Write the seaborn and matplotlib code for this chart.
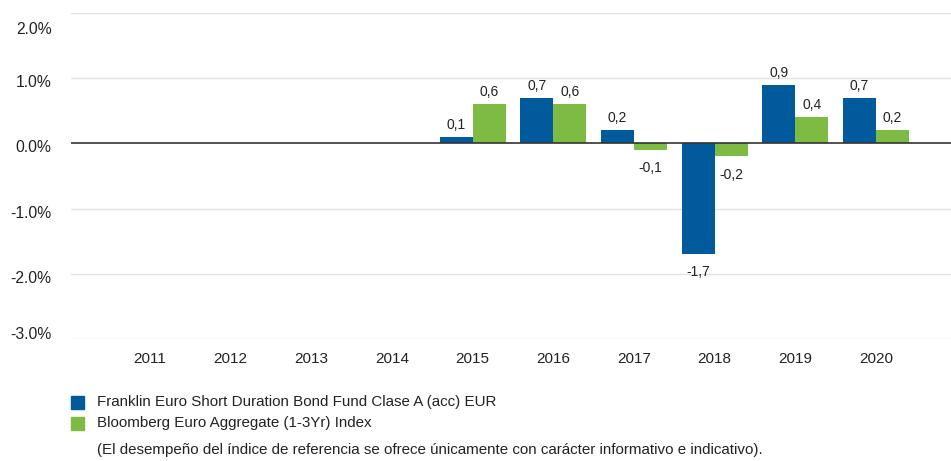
import matplotlib
matplotlib.use("Agg")
import matplotlib.pyplot as plt
import matplotlib.patches as mpatches
import matplotlib.transforms as mtransforms
import seaborn as sns
import pandas as pd
import numpy as np

years = ["2011", "2012", "2013", "2014", "2015", "2016", "2017", "2018", "2019", "2020"]
fund = [np.nan, np.nan, np.nan, np.nan, 0.1, 0.7, 0.2, -1.7, 0.9, 0.7]
index = [np.nan, np.nan, np.nan, np.nan, 0.6, 0.6, -0.1, -0.2, 0.4, 0.2]
series_names = ["Franklin Euro Short Duration Bond Fund Clase A (acc) EUR",
                "Bloomberg Euro Aggregate (1-3Yr) Index"]
yticks = [-3.0, -2.0, -1.0, 0.0, 1.0, 2.0]
footnote = "(El desempeño del índice de referencia se ofrece únicamente con carácter informativo e indicativo)."
colors = ["#005A9C", "#7DBB42"]

sns.set_theme(style="white")
plt.rcParams["font.family"] = ["Liberation Sans", "DejaVu Sans"]

df = pd.DataFrame({
    "year": years * 2,
    "value": fund + index,
    "series": [series_names[0]] * len(years) + [series_names[1]] * len(years),
})

fig = plt.figure(figsize=(9.51, 4.61), dpi=100)
ax = fig.add_axes([71 / 951, 1 - 339 / 461, 1 - 71 / 951, (339 - 13) / 461])

sns.barplot(data=df, x="year", y="value", hue="series", order=years,
            hue_order=series_names, palette=colors, width=0.82,
            saturation=1, ax=ax, legend=False, errorbar=None, linewidth=0)

ax.set_ylim(-3.0, 2.0)
ax.set_xlim(-0.98, 9.93)
ax.set_yticks(yticks)
ax.set_yticklabels([f"{v:.1f}%" for v in yticks], fontsize=11.3, color="#222222")
ax.tick_params(axis="x", labelsize=11, colors="#222222", length=0, pad=9)
ax.tick_params(axis="y", length=0, pad=14)
ax.set_xlabel("")
ax.set_ylabel("")
for s in ax.spines.values():
    s.set_visible(False)
for v in yticks:
    if v == 0:
        ax.axhline(v, color="#333333", lw=1.2, zorder=3)
    else:
        ax.axhline(v, color="#e3e3e3", lw=1.0, zorder=0)

# vertical nudges of y tick labels (in pixels, negative = down), as in reference
ymax, ymin = max(yticks), min(yticks)
for lab, v in zip(ax.get_yticklabels(), yticks):
    if v == ymax:
        dy = -15
    elif v == ymin:
        dy = 6
    else:
        dy = -3
    lab.set_transform(lab.get_transform() + mtransforms.ScaledTranslation(0, dy / 100, fig.dpi_scale_trans))

for cont in ax.containers:
    for rect in cont:
        h = rect.get_height()
        if np.isnan(h):
            continue
        x = rect.get_x() + rect.get_width() / 2
        txt = f"{h:.1f}".replace(".", ",")
        if h >= 0:
            ax.annotate(txt, (x, h), xytext=(0, 3.5), textcoords="offset points",
                        ha="center", va="bottom", fontsize=10, color="#222222")
        else:
            ax.annotate(txt, (x, h), xytext=(0, -8), textcoords="offset points",
                        ha="center", va="top", fontsize=10, color="#222222")

# legend
for i, (name, c) in enumerate(zip(series_names, colors)):
    y = 1 - (402 + i * 21) / 461
    fig.patches.append(mpatches.Rectangle((71 / 951, y - 6.5 / 461), 13 / 951, 13 / 461,
                                          transform=fig.transFigure, color=c, figure=fig))
    fig.text(97 / 951, y, name, fontsize=10.9, va="center", ha="left", color="#222222")
fig.text(97 / 951, 1 - 450 / 461, footnote, fontsize=10.9, va="center", ha="left", color="#222222")

fig.savefig("out.png", dpi=100)
